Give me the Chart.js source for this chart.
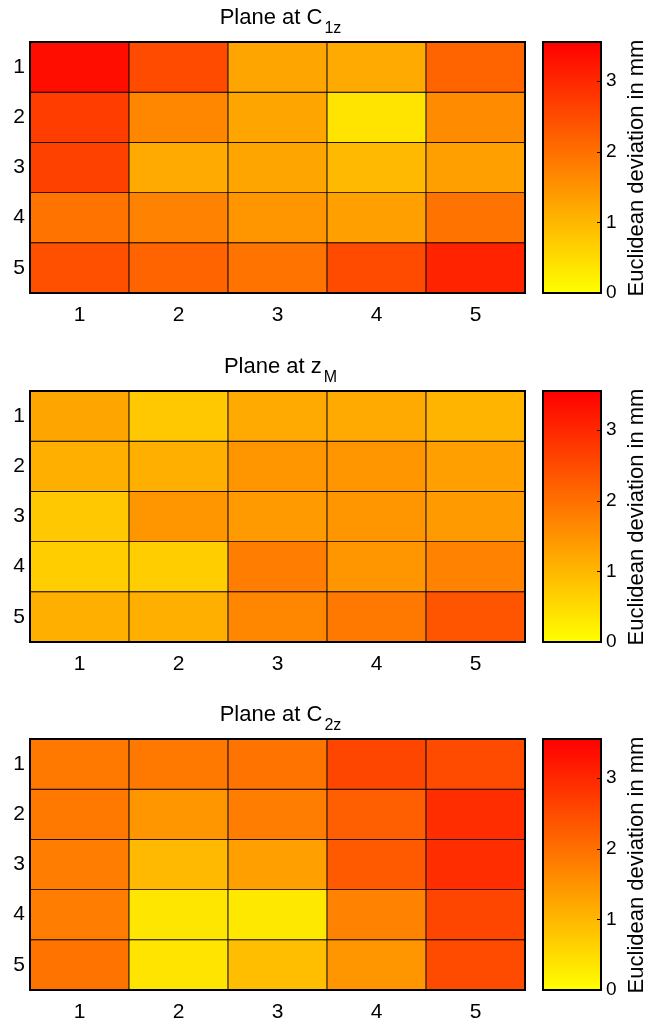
<!DOCTYPE html>
<html>
<head>
<meta charset="utf-8">
<script src="https://cdn.jsdelivr.net/npm/chart.js@4.4.0/dist/chart.umd.min.js"></script>
<style>
body{margin:0;background:#fff;width:662px;height:1022px;position:relative;overflow:hidden;font-family:"Liberation Sans",Arial,sans-serif;color:#000}
canvas{position:absolute}
.ttl{position:absolute;left:33px;width:495px;text-align:center;font-size:22px;line-height:24px;white-space:nowrap}
.ttl sub{font-size:16px;vertical-align:-9px;line-height:0;margin-left:2px}
.cbt{position:absolute;width:280px;height:24px;line-height:24px;text-align:center;font-size:22px;white-space:nowrap;transform:rotate(-90deg)}
</style>
</head>
<body>
<script>
// dane
const cols = ['1','2','3','4','5']
const rows = [1,2,3,4,5]
const cbTicks = [0,1,2,3]
const cMax = 3.55
const cbLabel = 'Euclidean deviation in mm'
const titles = [['C','1z'],['z','M'],['C','2z']]

// Plane at C1z
const c1z = [
    [3.35, 2.50, 1.25, 1.18, 2.16],
    [2.70, 1.67, 1.25, 0.38, 1.60],
    [2.65, 1.18, 1.25, 0.97, 1.32],
    [1.95, 1.74, 1.46, 1.32, 1.95],
    [2.44, 2.16, 1.95, 2.50, 3.06]
]
// Plane at zM
const zM = [
    [1.25, 0.77, 1.18, 1.18, 1.04],
    [1.11, 1.11, 1.46, 1.46, 1.32],
    [0.77, 1.46, 1.39, 1.46, 1.39],
    [0.70, 0.70, 1.81, 1.46, 1.74],
    [1.11, 1.11, 1.67, 1.88, 2.37]
]
// Plane at C2z
const c2z = [
    [1.88, 1.88, 1.95, 2.58, 2.50],
    [1.88, 1.46, 1.81, 2.23, 2.92],
    [1.81, 0.97, 1.32, 2.30, 2.92],
    [1.81, 0.35, 0.32, 1.74, 2.58],
    [1.95, 0.38, 0.90, 1.46, 2.50]
]

const panels = [c1z, zM, c2z]
const tops = [0, 349, 697]
const FONT = 'Liberation Sans'

// kolor jak autumn odwrocone: zolty -> czerwony
function colour(v){
    let g = Math.round(255*(1 - Math.min(v,cMax)/cMax))
    return 'rgb(255,'+g+',0)'
}

const frame = {
    id:'frame',
    afterDatasetsDraw(chart){
        const a = chart.chartArea, ctx = chart.ctx
        ctx.save()
        ctx.strokeStyle = '#000'
        ctx.lineWidth = 2
        ctx.strokeRect(a.left, a.top, a.right-a.left, a.bottom-a.top)
        ctx.restore()
    }
}
const cbTickMarks = {
    id:'cbTickMarks',
    afterDatasetsDraw(chart){
        const a = chart.chartArea, ctx = chart.ctx, y = chart.scales.y
        ctx.save()
        ctx.strokeStyle = '#000'
        ctx.lineWidth = 1
        cbTicks.forEach(t=>{
            let p = Math.round(y.getPixelForValue(t))+0.5
            ctx.beginPath()
            ctx.moveTo(a.right-4, p)
            ctx.lineTo(a.right, p)
            ctx.stroke()
        })
        ctx.restore()
    }
}

function makeCanvas(left, top, w, h){
    let c = document.createElement('canvas')
    c.width = w; c.height = h
    c.style.left = left+'px'; c.style.top = top+'px'
    c.style.width = w+'px'; c.style.height = h+'px'
    document.body.appendChild(c)
    return c
}

function heat(top, vals){
    new Chart(makeCanvas(0, top, 535, 330), {
        type:'bar',
        data:{
            labels: cols,
            datasets: rows.map((r,i)=>({
                data: cols.map(()=>[r-0.5, r+0.5]),
                backgroundColor: vals[i].map(colour),
                borderColor:'#000',
                borderWidth:0.8,
                borderSkipped:false,
                grouped:false,
                barPercentage:1,
                categoryPercentage:1
            }))
        },
        options:{
            responsive:false,
            animation:false,
            events:[],
            layout:{padding:{top:42, right:10, left:0, bottom:0}},
            plugins:{legend:{display:false}, tooltip:{enabled:false}},
            scales:{
                x:{
                    grid:{display:false, drawTicks:false}, border:{display:false},
                    ticks:{color:'#000', font:{size:21, family:FONT}, padding:10},
                    afterFit:s=>{s.height=37}
                },
                y:{
                    min:0.5, max:5.5, reverse:true,
                    grid:{display:false, drawTicks:false}, border:{display:false},
                    afterBuildTicks:s=>{s.ticks = rows.map(v=>({value:v}))},
                    ticks:{color:'#000', font:{size:21, family:FONT}, padding:5},
                    afterFit:s=>{s.width=30}
                }
            }
        },
        plugins:[frame]
    })
}

function colorbar(top){
    new Chart(makeCanvas(535, top, 127, 330), {
        type:'bar',
        data:{
            labels:[''],
            datasets:[{
                data:[[0, cMax]],
                backgroundColor:(c)=>{
                    const a = c.chart.chartArea
                    if(!a) return 'rgb(255,128,0)'
                    const g = c.chart.ctx.createLinearGradient(0, a.bottom, 0, a.top)
                    g.addColorStop(0, colour(0))
                    g.addColorStop(1, colour(cMax))
                    return g
                },
                borderWidth:0,
                barPercentage:1,
                categoryPercentage:1
            }]
        },
        options:{
            responsive:false,
            animation:false,
            events:[],
            layout:{padding:{top:42, left:8, bottom:37, right:0}},
            plugins:{legend:{display:false}, tooltip:{enabled:false}},
            scales:{
                x:{display:false},
                y:{
                    position:'right', min:0, max:cMax,
                    grid:{display:false, drawTicks:false}, border:{display:false},
                    afterBuildTicks:s=>{s.ticks = cbTicks.map(v=>({value:v}))},
                    ticks:{color:'#000', font:{size:19, family:FONT}, padding:5},
                    afterFit:s=>{s.width=61}
                }
            }
        },
        plugins:[frame, cbTickMarks]
    })
}

panels.forEach((vals,i)=>{
    let t = tops[i]
    heat(t, vals)
    colorbar(t)
    let d = document.createElement('div')
    d.className = 'ttl'
    d.style.top = (t+5)+'px'
    d.innerHTML = 'Plane at '+titles[i][0]+'<sub>'+titles[i][1]+'</sub>'
    document.body.appendChild(d)
    let lb = document.createElement('div')
    lb.className = 'cbt'
    lb.style.left = (636-140)+'px'
    lb.style.top = (t+168-12)+'px'
    lb.textContent = cbLabel
    document.body.appendChild(lb)
})
</script>
</body>
</html>
